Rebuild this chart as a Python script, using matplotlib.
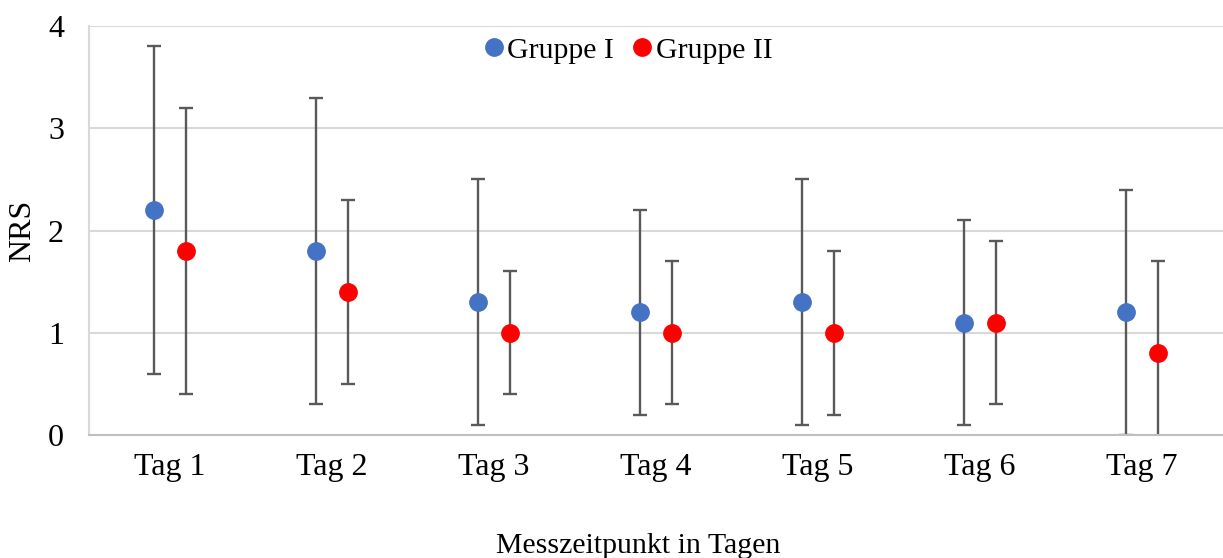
"""NRS pain scores per measurement day, mean with SD, two groups."""

import matplotlib

matplotlib.use("Agg")
import matplotlib.pyplot as plt
import numpy as np

plt.rcParams["font.family"] = ["Liberation Serif", "DejaVu Serif"]

days = ["Tag 1", "Tag 2", "Tag 3", "Tag 4", "Tag 5", "Tag 6", "Tag 7"]

group1_mean = [2.2, 1.8, 1.3, 1.2, 1.3, 1.1, 1.2]
group1_sd = [1.6, 1.5, 1.2, 1.0, 1.2, 1.0, 1.2]

group2_mean = [1.8, 1.4, 1.0, 1.0, 1.0, 1.1, 0.8]
group2_sd = [1.4, 0.9, 0.6, 0.7, 0.8, 0.8, 0.9]

x = np.arange(len(days))
offset = 0.1
fs = 23

fig = plt.figure(figsize=(12.23, 5.58), dpi=100)
ax = fig.add_axes([0.0728, 0.2204, 0.9272, 0.733])

err_kw = dict(fmt="none", ecolor="#595959", elinewidth=1.7, capsize=4.7, capthick=1.7, zorder=2)
ax.errorbar(x - offset, group1_mean, yerr=group1_sd, **err_kw)
ax.errorbar(x + offset, group2_mean, yerr=group2_sd, **err_kw)

ax.plot(x - offset, group1_mean, "o", color="#4472C4", markersize=12.5, zorder=3, label="Gruppe I")
ax.plot(x + offset, group2_mean, "o", color="#FF0000", markersize=12.5, zorder=3, label="Gruppe II")

ax.set_xlim(-0.5, len(days) - 0.5)
ax.set_ylim(0, 4)
ax.set_yticks([0, 1, 2, 3, 4])
ax.set_xticks(x)
ax.set_xticklabels(days)
ax.tick_params(axis="both", length=0, labelsize=fs)
ax.tick_params(axis="x", pad=13)
ax.tick_params(axis="y", pad=18)

ax.yaxis.grid(True, color="#D9D9D9", linewidth=1.5)
ax.set_axisbelow(True)
for side in ["top", "right"]:
    ax.spines[side].set_visible(False)
ax.spines["left"].set_color("#D9D9D9")
ax.spines["left"].set_linewidth(1.5)
ax.spines["bottom"].set_color("#BFBFBF")
ax.spines["bottom"].set_linewidth(1.5)

ax.set_ylabel("NRS", fontsize=fs)
ax.yaxis.set_label_coords(-0.046, 0.5)
fig.text(0.522, 0.022, "Messzeitpunkt in Tagen", fontsize=21.5, ha="center", va="center")

ax.legend(
    loc="center",
    bbox_to_anchor=(0.514, 0.91),
    bbox_transform=fig.transFigure,
    ncol=2,
    frameon=False,
    fontsize=21.5,
    handlelength=0.6,
    handletextpad=0.15,
    columnspacing=0.65,
    markerscale=1.0,
)

fig.savefig("out.png", dpi=100)
